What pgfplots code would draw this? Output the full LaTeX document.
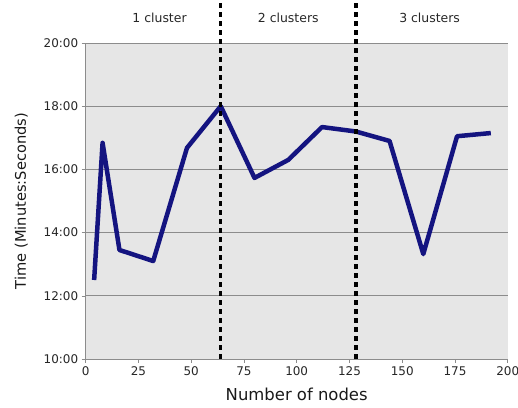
\documentclass[border=0pt]{standalone}
\usepackage{pgfplots}
\pgfplotsset{compat=1.18}
\usepackage{fontspec}
\setmainfont{DejaVu Sans}
\definecolor{bgc}{RGB}{230,230,230}
\definecolor{navy}{RGB}{20,20,128}
\definecolor{gridc}{RGB}{140,140,140}
\begin{document}
\begin{tikzpicture}
\path[use as bounding box] (0,0) rectangle (518bp,408bp);
\begin{axis}[
  at={(85.7bp,49bp)}, anchor=south west,
  scale only axis, width=422bp, height=316bp,
  xmin=0, xmax=200, ymin=10, ymax=20,
  xtick={0,25,...,200},
  ytick={10,12,...,20},
  yticklabels={10:00,12:00,14:00,16:00,18:00,20:00},
  /pgf/number format/assume math mode=true,
  axis lines*=left,
  axis line style={gridc, line width=0.8pt},
  tick style={gridc, line width=0.6pt},
  tick align=outside, major tick length=4bp,
  ymajorgrids, grid style={gridc, line width=0.8pt},
  axis background/.style={fill=bgc},
  tick label style={font=\fontsize{12}{14}\selectfont, text=black!85},
  xlabel={Number of nodes}, ylabel={Time (Minutes:Seconds)},
  xlabel style={font=\fontsize{16.5}{18}\selectfont, text=black!90, yshift=-6bp},
  ylabel style={font=\fontsize{14.7}{17}\selectfont, text=black!90, yshift=9bp},
  clip=false,
]
\addplot[navy, line width=4.5bp, line join=round] coordinates {
 (4,12.5) (8,16.84) (16,13.45) (32,13.1) (48,16.68) (64,18.0)
 (80,15.73) (96,16.3) (112,17.34) (128,17.2) (144,16.9) (160,13.32)
 (176,17.05) (192,17.15)
};
\addplot[black, line width=3.5bp, dash pattern=on 5bp off 4bp] coordinates {(64,10) (64,21.25)};
\addplot[black, line width=3.5bp, dash pattern=on 5bp off 4bp] coordinates {(128,10) (128,21.25)};
\node[font=\fontsize{12.5}{14}\selectfont, text=black!85] at (axis cs:35,20.8) {1 cluster};
\node[font=\fontsize{12.5}{14}\selectfont, text=black!85] at (axis cs:96,20.8) {2 clusters};
\node[font=\fontsize{12.5}{14}\selectfont, text=black!85] at (axis cs:163,20.8) {3 clusters};
\end{axis}
\end{tikzpicture}
\end{document}
